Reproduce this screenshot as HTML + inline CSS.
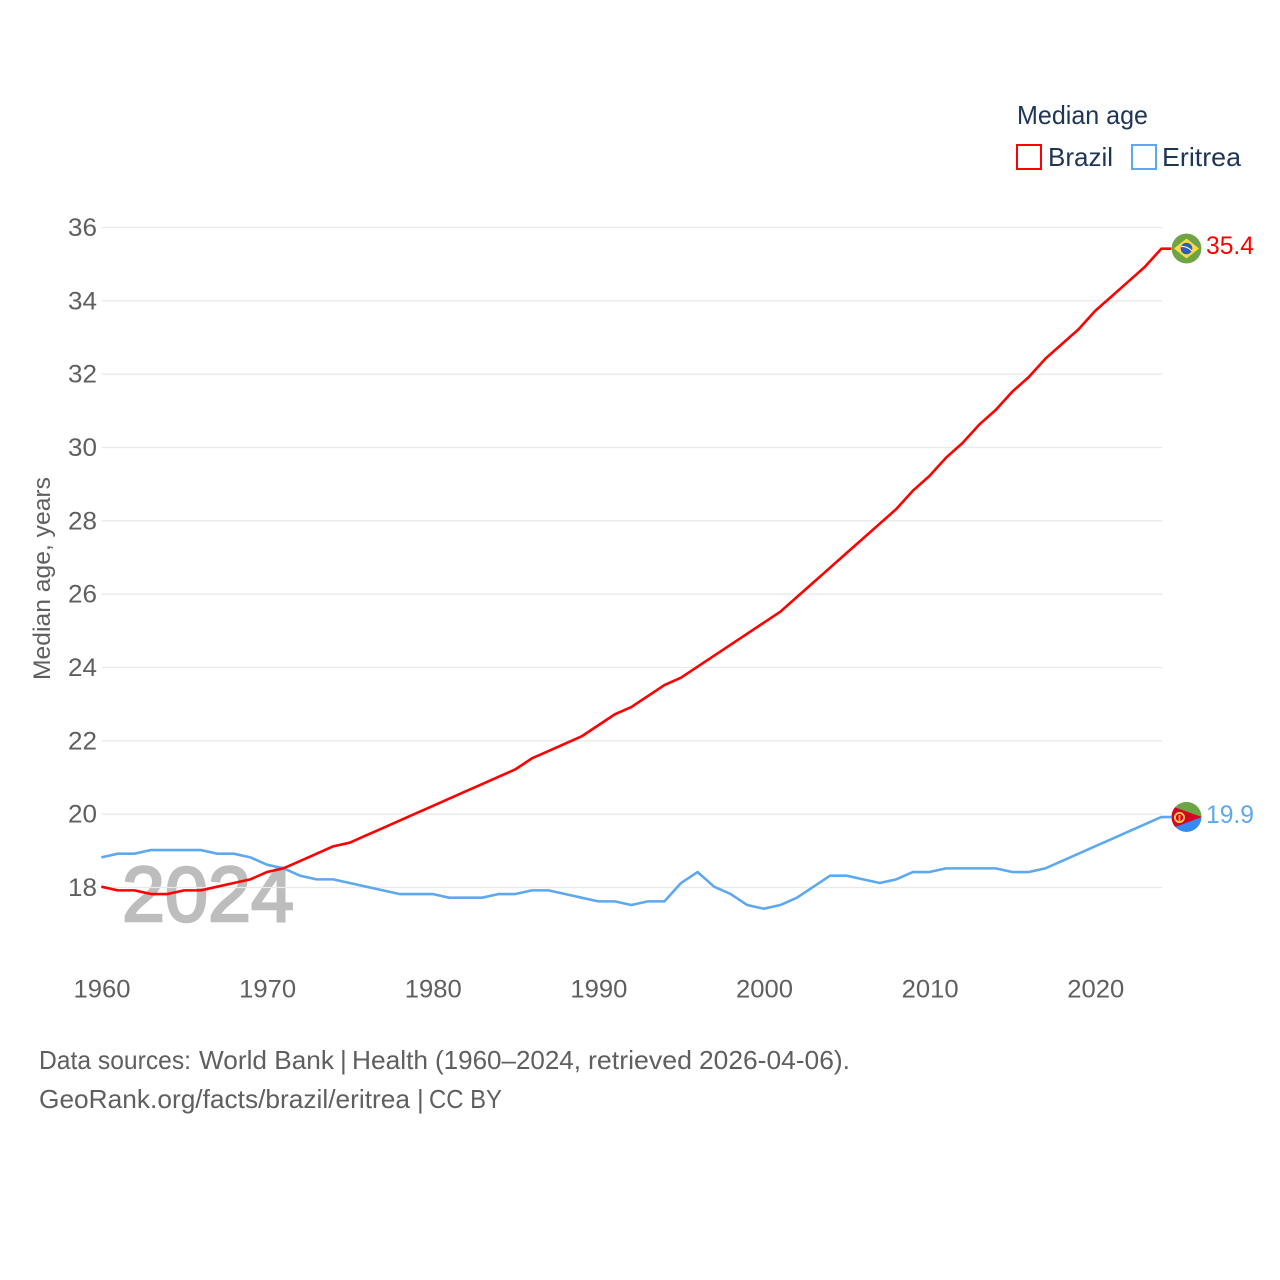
<!DOCTYPE html>
<html lang="en">
<head>
<meta charset="utf-8">
<title>Median age: Brazil and Eritrea</title>
<style>
html,body{margin:0;padding:0;background:#fff;width:1280px;height:1280px;overflow:hidden}
svg{display:block;font-family:"Liberation Sans",sans-serif}
.src{font-size:26px;fill:#5f5f5f}
</style>
</head>
<body>
<svg id="chart" width="1280" height="1280" viewBox="0 0 1280 1280" xmlns="http://www.w3.org/2000/svg">
  <defs>
    <clipPath id="flag-clip-br"><circle cx="1186.5" cy="248.5" r="15"/></clipPath>
    <clipPath id="flag-clip-er"><circle cx="1186.5" cy="817" r="15"/></clipPath>
  </defs>
  <rect x="0" y="0" width="1280" height="1280" fill="#fff"/>
  <text x="122" y="921" font-size="78" font-weight="400" fill="#bdbdbd" stroke="#bdbdbd" stroke-width="2.5" textLength="172" lengthAdjust="spacingAndGlyphs">2024</text>
  <g id="grid"></g>
  <g id="yticks"></g>
  <g id="xticks"></g>
  <text transform="translate(50,680) rotate(-90)" font-size="24.5" fill="#5f5f5f" textLength="203" lengthAdjust="spacingAndGlyphs">Median age, years</text>
  <g id="series" transform="translate(-0.7,-0.8)"></g>

  <g>
    <text x="1017" y="124" font-size="26" fill="#1d3557" textLength="131" lengthAdjust="spacingAndGlyphs">Median age</text>
    <rect x="1017" y="145" width="24" height="24" fill="#fff" stroke="#ff0000" stroke-width="2"/>
    <text x="1048" y="166" font-size="26" fill="#1d3557" textLength="65" lengthAdjust="spacingAndGlyphs">Brazil</text>
    <rect x="1132" y="145" width="24" height="24" fill="#fff" stroke="#5ea8f0" stroke-width="2"/>
    <text x="1162" y="166" font-size="26" fill="#1d3557" textLength="79" lengthAdjust="spacingAndGlyphs">Eritrea</text>
  </g>

  <g clip-path="url(#flag-clip-br)">
    <circle cx="1186.5" cy="248.5" r="15" fill="#6da544"/>
    <polygon points="1186.5,238.5 1199,248.5 1186.5,258.5 1174,248.5" fill="#ffda44"/>
    <circle cx="1186.5" cy="248.5" r="5.8" fill="#2f5fb5"/>
    <path d="M1181 246.5 Q1187 246 1192 251" fill="none" stroke="#f0f0f0" stroke-width="1.2"/>
  </g>
  <g clip-path="url(#flag-clip-er)">
    <circle cx="1186.5" cy="817" r="15" fill="#338af3"/>
    <path d="M1171 802H1202V817H1171Z" fill="#6da544"/>
    <polygon points="1171,806 1202,817 1171,828.5" fill="#d80027"/>
    <rect x="1170" y="802" width="3" height="3" fill="#6da544"/>
    <circle cx="1179.5" cy="817.5" r="4.6" fill="none" stroke="#ffda44" stroke-width="1.8"/>
    <path d="M1179.5 815V821" stroke="#ffda44" stroke-width="1.6"/>
  </g>
  <text x="1206" y="254" font-size="25" fill="#ff0000" textLength="48" lengthAdjust="spacingAndGlyphs">35.4</text>
  <text x="1206" y="823" font-size="25" fill="#5ea8f0" textLength="48" lengthAdjust="spacingAndGlyphs">19.9</text>

  <g>
    <text class="src" x="39" y="1069" textLength="152" lengthAdjust="spacingAndGlyphs">Data sources:</text>
    <text class="src" x="199" y="1069" textLength="135" lengthAdjust="spacingAndGlyphs">World Bank</text>
    <text class="src" x="340" y="1069">|</text>
    <text class="src" x="352" y="1069" textLength="76" lengthAdjust="spacingAndGlyphs">Health</text>
    <text class="src" x="435" y="1069" textLength="146" lengthAdjust="spacingAndGlyphs">(1960–2024,</text>
    <text class="src" x="588" y="1069" textLength="104" lengthAdjust="spacingAndGlyphs">retrieved</text>
    <text class="src" x="699" y="1069" textLength="151" lengthAdjust="spacingAndGlyphs">2026-04-06).</text>
  </g>
  <g>
    <text class="src" x="39" y="1108" textLength="371" lengthAdjust="spacingAndGlyphs">GeoRank.org/facts/brazil/eritrea</text>
    <text class="src" x="417" y="1108">|</text>
    <text class="src" x="429" y="1108" textLength="73" lengthAdjust="spacingAndGlyphs">CC BY</text>
  </g>
</svg>
<script>
const yearStart = 1960;
const brazilValues = [18.0,17.9,17.9,17.8,17.8,17.9,17.9,18.0,18.1,18.2,18.4,18.5,18.7,18.9,19.1,19.2,19.4,19.6,19.8,20.0,20.2,20.4,20.6,20.8,21.0,21.2,21.5,21.7,21.9,22.1,22.4,22.7,22.9,23.2,23.5,23.7,24.0,24.3,24.6,24.9,25.2,25.5,25.9,26.3,26.7,27.1,27.5,27.9,28.3,28.8,29.2,29.7,30.1,30.6,31.0,31.5,31.9,32.4,32.8,33.2,33.7,34.1,34.5,34.9,35.4];
const eritreaValues = [18.8,18.9,18.9,19.0,19.0,19.0,19.0,18.9,18.9,18.8,18.6,18.5,18.3,18.2,18.2,18.1,18.0,17.9,17.8,17.8,17.8,17.7,17.7,17.7,17.8,17.8,17.9,17.9,17.8,17.7,17.6,17.6,17.5,17.6,17.6,18.1,18.4,18.0,17.8,17.5,17.4,17.5,17.7,18.0,18.3,18.3,18.2,18.1,18.2,18.4,18.4,18.5,18.5,18.5,18.5,18.4,18.4,18.5,18.7,18.9,19.1,19.3,19.5,19.7,19.9];
const yTickValues = [18,20,22,24,26,28,30,32,34,36];
const xTickValues = [1960,1970,1980,1990,2000,2010,2020];

const NS = 'http://www.w3.org/2000/svg';
function xScale(year){ return 102 + (year - 1960) * (1060 / 64); }
function yScale(v){ return 887.5 - (v - 18) * (660 / 18); }
function make(tag, attrs, parent){
  const el = document.createElementNS(NS, tag);
  for (const k in attrs) el.setAttribute(k, attrs[k]);
  parent.appendChild(el);
  return el;
}
const grid = document.getElementById('grid');
const yticks = document.getElementById('yticks');
const xticks = document.getElementById('xticks');
const series = document.getElementById('series');

yTickValues.forEach(function(v){
  const line = make('line', {x1:102, x2:1162, y1:yScale(v), y2:yScale(v), stroke:'#e9e9e9', 'stroke-width':1.3}, grid);
  
  
  const t = make('text', {x:97, y:yScale(v) + 8.5, 'text-anchor':'end', 'font-size':25, fill:'#5f5f5f', textLength:29, lengthAdjust:'spacingAndGlyphs'}, yticks);
  t.textContent = String(v);
  
  
});

xTickValues.forEach(function(y){
  const t = make('text', {x:xScale(y), y:997.5, 'text-anchor':'middle', 'font-size':25, fill:'#5f5f5f', textLength:57, lengthAdjust:'spacingAndGlyphs'}, xticks);
  t.textContent = String(y);
  
  
});

function seriesPath(values){
  const pts = values.map(function(v, i){ return xScale(yearStart + i).toFixed(2) + ',' + yScale(v).toFixed(2); });
  const last = values[values.length - 1];
  return 'M' + pts.join('L') + 'L1172,' + yScale(last).toFixed(2);
}

const eritreaLine = make('path', {d:seriesPath(eritreaValues), fill:'none', stroke:'#5ea8f0', 'stroke-width':2.6, 'stroke-linejoin':'round'}, series);



const brazilLine = make('path', {d:seriesPath(brazilValues), fill:'none', stroke:'#ff0000', 'stroke-width':2.6, 'stroke-linejoin':'round'}, series);


</script>
</body>
</html>
